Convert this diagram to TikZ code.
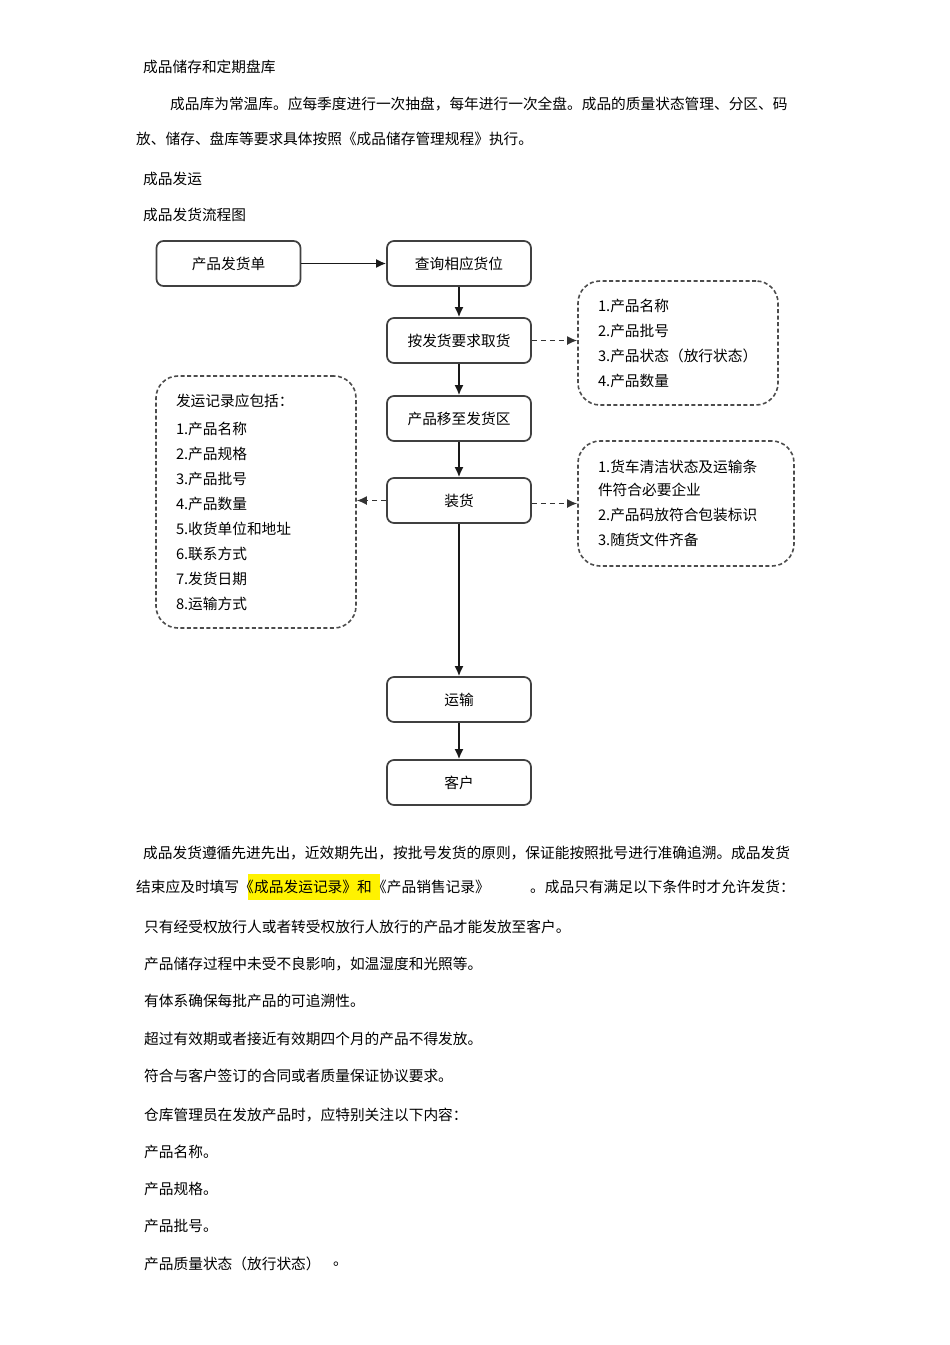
\documentclass[tikz,border=0pt]{standalone}
\usepackage{fontspec}
\setmainfont{Noto Sans CJK SC}
\usetikzlibrary{positioning,arrows.meta,backgrounds}

\begin{document}
\begin{tikzpicture}[x=1pt,y=-1pt,
  every node/.style={font=\fontsize{14.7pt}{25pt}\selectfont, text=black},
  bodytext/.style={anchor=west, inner sep=0pt},
  flowbox/.style={draw=black!75, line width=1.7pt, rounded corners=7pt,
    minimum width=144pt, minimum height=45pt},
  notebox/.style={draw=black!70, line width=1.6pt, dash pattern=on 4pt off 2.5pt,
    rounded corners=22pt, align=left, inner xsep=20pt},
  flowline/.style={draw=black!90, line width=1.7pt, -{Latex[length=10pt,width=9pt]}},
  noteline/.style={draw=black!80, line width=1.6pt, dash pattern=on 5pt off 4pt,
    -{Latex[length=10pt,width=9pt]}}]

\begin{scope}[on background layer]
  \fill[white] (0,0) rectangle (950,1345);
\end{scope}
\useasboundingbox (0,0) rectangle (950,1345);

% text above the chart
\node[bodytext] (store) at (143,67) {成品储存和定期盘库};
\node[bodytext] (para1) at (170,104) {成品库为常温库。应每季度进行一次抽盘，每年进行一次全盘。成品的质量状态管理、分区、码};
\node[bodytext] (para2) at (136,139) {放、储存、盘库等要求具体按照《成品储存管理规程》执行。};
\node[bodytext] (ship) at (143,179) {成品发运};
\node[bodytext] (chart) at (143,215) {成品发货流程图};

% flow chart
\node[flowbox] (order) at (228.5,263.5) {产品发货单};
\node[flowbox] (query) at (459,263.5) {查询相应货位};
\node[flowbox] (pick) at (459,340.5) {按发货要求取货};
\node[flowbox] (move) at (459,418.5) {产品移至发货区};
\node[flowbox] (load) at (459,500.5) {装货};
\node[flowbox] (trans) at (459,699.5) {运输};
\node[flowbox] (client) at (459,782.5) {客户};

\node[notebox, text width=160pt, minimum height=124pt] (pickinfo) at (678,343)
  {1.产品名称\\2.产品批号\\3.产品状态（放行状态）\\4.产品数量};
\node[notebox, text width=160pt, minimum height=252pt] (record) at (256,502)
  {发运记录应包括：\\[3pt]1.产品名称\\2.产品规格\\3.产品批号\\4.产品数量\\5.收货单位和地址\\6.联系方式\\7.发货日期\\8.运输方式};
\node[notebox, text width=176pt, minimum height=125pt] (loadinfo) at (686,503.5)
  {1.货车清洁状态及运输条\\[-2pt]件符合必要企业\\2.产品码放符合包装标识\\3.随货文件齐备};

\draw[flowline] (order) -- (query);
\draw[flowline] (query) -- (pick);
\draw[flowline] (pick) -- (move);
\draw[flowline] (move) -- (load);
\draw[flowline] (load) -- (trans);
\draw[flowline] (trans) -- (client);
\draw[noteline] (pick.east) -- (pick.east -| pickinfo.west);
\draw[noteline] (load.west) -- (load.west -| record.east);
\draw[noteline] ([yshift=-3pt]load.east) -- ([yshift=-3pt]load.east -| loadinfo.west);

% text below the chart
\node[bodytext] (rule1) at (143,853) {成品发货遵循先进先出，近效期先出，按批号发货的原则，保证能按照批号进行准确追溯。成品发货};
\node[bodytext] (rule2a) at (136,887) {结束应及时填写《};
\node[bodytext, right=0pt of rule2a] (rule2b) {成品发运记录》和};
\node[bodytext, right=0pt of rule2b] (rule2c) {《产品销售记录》};
\node[bodytext] (rule2d) at (530,887) {。成品只有满足以下条件时才允许发货：};
\begin{scope}[on background layer]
  \fill[yellow] ([xshift=-6pt,yshift=13pt]rule2b.west) rectangle ([xshift=8pt,yshift=-13pt]rule2c.west);
\end{scope}

\foreach \y/\t in {927/只有经受权放行人或者转受权放行人放行的产品才能发放至客户。,
  964/产品储存过程中未受不良影响，如温湿度和光照等。,
  1001/有体系确保每批产品的可追溯性。,
  1039/超过有效期或者接近有效期四个月的产品不得发放。,
  1076/符合与客户签订的合同或者质量保证协议要求。,
  1115/仓库管理员在发放产品时，应特别关注以下内容：,
  1152/产品名称。,
  1189/产品规格。,
  1226/产品批号。}
  \node[bodytext] (cond\y) at (144,\y) {\t};
\node[bodytext] (status) at (144,1264) {产品质量状态（放行状态）};
\node[bodytext] (statusend) at (333,1264) {。};
\end{tikzpicture}
\end{document}
